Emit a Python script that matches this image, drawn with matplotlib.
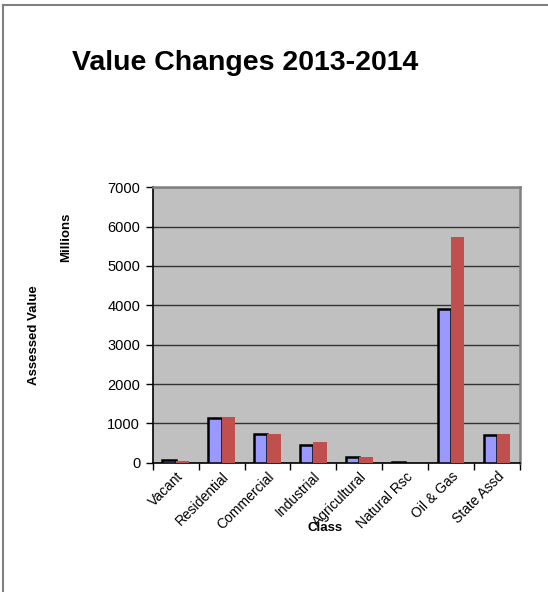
import matplotlib
matplotlib.use('Agg')
import matplotlib.pyplot as plt
from matplotlib.lines import Line2D
import numpy as np

plt.rcParams['font.family'] = ['Liberation Sans', 'DejaVu Sans']

classes = ['Vacant', 'Residential', 'Commercial', 'Industrial', 'Agricultural',
           'Natural Rsc', 'Oil & Gas', 'State Assd']
value_2013 = [70, 1128, 729, 450, 153, 25, 3900, 704]
value_2014 = [50, 1153, 735, 534, 145, 5, 5730, 729]

fig = plt.figure(figsize=(5.48, 5.92), dpi=100)
ax = fig.add_axes([152.7 / 548, 1 - 462.7 / 592, (520 - 152.7) / 548, (462.7 - 187.3) / 592])

x = np.arange(len(classes))
w = 0.29
ax.bar(x - w / 2, value_2013, w, color='#9999FF', edgecolor='black', linewidth=1.8, zorder=3)
ax.bar(x + w / 2, value_2014, w, color='#C0504D', edgecolor='none', zorder=3)

ax.set_facecolor('#C0C0C0')
ax.set_xlim(-0.5, len(classes) - 0.5)
ax.set_ylim(0, 7000)
ax.set_yticks(range(0, 7001, 1000))
ax.yaxis.grid(True, color='#333333', linewidth=1.0, zorder=1)
ax.set_axisbelow(True)

# category ticks sit between the groups
ax.set_xticks(np.arange(-0.5, len(classes)), minor=False)
ax.set_xticklabels([])
ax.set_xticks(x, minor=True)
ax.set_xticklabels(classes, minor=True, rotation=45, ha='right', rotation_mode='anchor', fontsize=10)
ax.tick_params(axis='x', which='major', length=5, width=1, color='black')
ax.tick_params(axis='x', which='minor', length=0, pad=5)
ax.tick_params(axis='y', length=5, width=1, labelsize=10.5, pad=4)

for side in ['left', 'bottom']:
    ax.spines[side].set_color('black')
    ax.spines[side].set_linewidth(1.2)
for side in ['top', 'right']:
    ax.spines[side].set_color('#808080')
    ax.spines[side].set_linewidth(1.8)

fig.text(72 / 548, 1 - 63 / 592, 'Value Changes 2013-2014', fontsize=20.5, fontweight='bold',
         ha='left', va='center')
fig.text(66 / 548, 1 - 237 / 592, 'Millions', fontsize=9.5, fontweight='bold',
         rotation=90, ha='center', va='center')
fig.text(34 / 548, 1 - 335 / 592, 'Assessed Value', fontsize=9.5, fontweight='bold',
         rotation=90, ha='center', va='center')
fig.text(325 / 548, 1 - 528 / 592, 'Class', fontsize=9.5, fontweight='bold',
         ha='center', va='center')

# frame around the chart area
fig.add_artist(Line2D([3 / 548, 1], [1 - 5 / 592, 1 - 5 / 592], color='#808080', linewidth=1.5))
fig.add_artist(Line2D([3 / 548, 3 / 548], [0, 1 - 5 / 592], color='#808080', linewidth=1.5))

fig.savefig('out.png', dpi=100)
